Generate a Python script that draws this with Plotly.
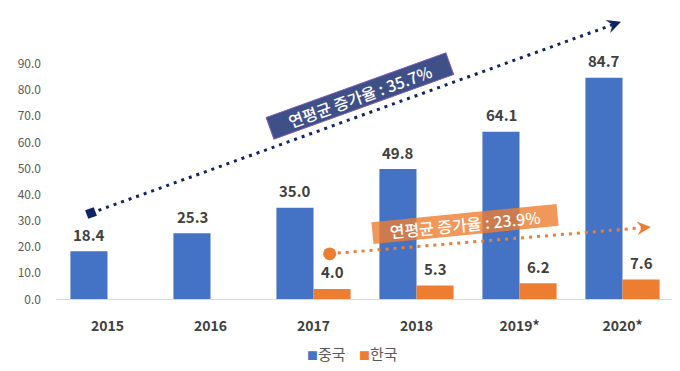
import math
import plotly.graph_objects as go

# ---- data ----
years = ["2015", "2016", "2017", "2018", "2019*", "2020*"]
china = [18.4, 25.3, 35.0, 49.8, 64.1, 84.7]
korea = [None, None, 4.0, 5.3, 6.2, 7.6]
series_names = ["중국", "한국"]
y_ticks = [0, 10, 20, 30, 40, 50, 60, 70, 80, 90]
y_tick_labels = ["%.1f" % v for v in y_ticks]
cagr_labels = ["연평균 증가율 : 35.7%", "연평균 증가율 : 23.9%"]

BLUE = "#4472C4"
ORANGE = "#ED7D31"
NAVY = "#0F2466"
FONT = "Noto Sans CJK KR"
W, H = 680, 371

xpos = list(range(len(years)))

fig = go.Figure()
fig.add_trace(go.Bar(x=xpos, y=china, name=series_names[0], marker_color=BLUE,
                     marker_line_width=0, showlegend=False))
fig.add_trace(go.Bar(x=xpos, y=korea, name=series_names[1], marker_color=ORANGE,
                     marker_line_width=0, showlegend=False))

# value labels above bars
ann = []
for vals, dx in ((china, -18.5), (korea, 18.5)):
    for x, v in zip(xpos, vals):
        if v is None:
            continue
        ann.append(dict(x=x, y=v, xref="x", yref="y", text="%.1f" % v,
                        showarrow=False, xshift=dx, yshift=17, xanchor="center",
                        yanchor="middle",
                        font=dict(family=FONT, size=15, color="#404040", weight="bold")))


# ---- decorative trend arrows, drawn in paper coordinates from pixel positions ----
def px(x, y):
    return x / W, 1 - y / H


def path(points):
    s = ""
    for i, (x, y) in enumerate(points):
        u, v = px(x, y)
        s += ("M" if i == 0 else "L") + "%.5f,%.5f" % (u, v)
    return s + "Z"


def arrow_head(tip, start, length=14, half=7):
    dx, dy = tip[0] - start[0], tip[1] - start[1]
    n = math.hypot(dx, dy)
    ux, uy = dx / n, dy / n
    nx, ny = -uy, ux
    bx, by = tip[0] - length * ux, tip[1] - length * uy
    mx, my = tip[0] - 0.65 * length * ux, tip[1] - 0.65 * length * uy
    return path([tip, (bx + half * nx, by + half * ny), (mx, my),
                 (bx - half * nx, by - half * ny)])


def diamond(c, r, ang_deg):
    a = math.radians(ang_deg)
    pts = []
    for k in range(4):
        t = a + k * math.pi / 2
        pts.append((c[0] + r * math.cos(t), c[1] + r * math.sin(t)))
    return path(pts)


shapes = []
navy_s, navy_t = (83, 209), (613, 14)
org_s, org_t = (321.7, 250.5), (643, 223.3)


def dotted(a, b, color, trim):
    dx, dy = b[0] - a[0], b[1] - a[1]
    n = math.hypot(dx, dy)
    e = (b[0] - trim * dx / n, b[1] - trim * dy / n)
    x0, y0 = px(*a)
    x1, y1 = px(*e)
    return dict(type="line", xref="paper", yref="paper", x0=x0, y0=y0, x1=x1, y1=y1,
                line=dict(color=color, width=3, dash="3px,5px"))


shapes.append(dotted(navy_s, navy_t, NAVY, 9))
shapes.append(dict(type="path", xref="paper", yref="paper", path=diamond(navy_s, 6.5, 25),
                   fillcolor=NAVY, line=dict(width=0)))
shapes.append(dict(type="path", xref="paper", yref="paper", path=arrow_head(navy_t, navy_s),
                   fillcolor=NAVY, line=dict(width=0)))

shapes.append(dotted(org_s, org_t, ORANGE, 9))
cx0, cy0 = px(org_s[0] - 6.5, org_s[1] + 6.5)
cx1, cy1 = px(org_s[0] + 6.5, org_s[1] - 6.5)
shapes.append(dict(type="circle", xref="paper", yref="paper", x0=cx0, y0=cy0, x1=cx1, y1=cy1,
                   fillcolor=ORANGE, line=dict(width=0)))
shapes.append(dict(type="path", xref="paper", yref="paper", path=arrow_head(org_t, org_s),
                   fillcolor=ORANGE, line=dict(width=0)))

bx, by = px(352, 90)
ann.append(dict(x=bx, y=by, xref="paper", yref="paper", xanchor="center", yanchor="middle",
                text=cagr_labels[0], showarrow=False,
                textangle=-19.8, bgcolor="#3F5088", bordercolor="#7B5CB8", borderwidth=1,
                width=188, height=20,
                font=dict(family=FONT, size=16, color="white", weight=500)))
ox, oy = px(457, 220)
ann.append(dict(x=ox, y=oy, xref="paper", yref="paper", xanchor="center", yanchor="middle",
                text=cagr_labels[1], showarrow=False,
                textangle=-5.6, bgcolor="rgba(237,125,49,0.8)", borderwidth=0,
                width=184, height=20,
                font=dict(family=FONT, size=16, color="white", weight=500)))

# legend drawn as text with small coloured square glyphs
lx, ly = px(344, 352)
legend_text = "&nbsp;&nbsp;&nbsp;&nbsp;".join(
    "<span style='color:%s;font-size:11px'>■</span>%s" % (c, n)
    for c, n in zip((BLUE, ORANGE), series_names))
ann.append(dict(x=lx, y=ly, xref="paper", yref="paper", xanchor="center", yanchor="middle",
                text=legend_text, showarrow=False,
                font=dict(family=FONT, size=15, color="#595959")))

y0_px, ymax_px = 297, 297 - 100 * 240 / 90
fig.update_layout(
    width=W, height=H, margin=dict(l=0, r=0, t=0, b=0),
    paper_bgcolor="white", plot_bgcolor="white",
    barmode="group", bargap=0.28, bargroupgap=0,
    font=dict(family=FONT, color="#595959"),
    xaxis=dict(range=[-0.5, len(years) - 0.5], tickvals=xpos, ticktext=years,
               domain=[48 / W, 666 / W], showline=True, linecolor="#D9D9D9", linewidth=1,
               showgrid=False, zeroline=False, ticks="", ticklabelstandoff=14,
               tickfont=dict(family=FONT, size=14, color="#404040", weight="bold")),
    yaxis=dict(domain=[1 - y0_px / H, 1 - ymax_px / H], range=[0, 100],
               tickvals=y_ticks, ticktext=y_tick_labels, showgrid=False, zeroline=False,
               showline=False, ticks="", ticklabelstandoff=14,
               tickfont=dict(family=FONT, size=12, color="#595959")),
    annotations=ann,
    shapes=shapes,
    showlegend=False,
)

fig.write_html("out.html")
